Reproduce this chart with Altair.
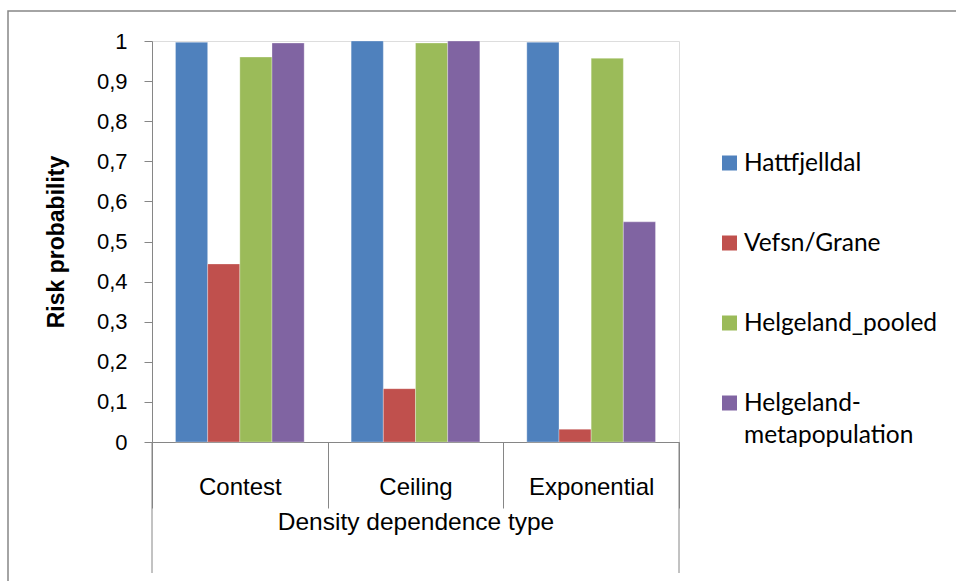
import altair as alt
import pandas as pd

categories = ["Contest", "Ceiling", "Exponential"]
series = ["Hattfjelldal", "Vefsn/Grane", "Helgeland_pooled", "Helgeland-metapopulation"]
legend_labels = ["Hattfjelldal", "Vefsn/Grane", "Helgeland_pooled", "Helgeland-\nmetapopulation"]
hattfjelldal = [0.997, 1.0, 0.997]
vefsn_grane = [0.444, 0.133, 0.032]
helgeland_pooled = [0.960, 0.995, 0.957]
helgeland_meta = [0.995, 1.0, 0.549]
colors = ["#4F81BD", "#C0504D", "#9BBB59", "#8064A2"]
y_ticks = [0, 0.1, 0.2, 0.3, 0.4, 0.5, 0.6, 0.7, 0.8, 0.9, 1.0]

rows = []
for s, vals in zip(series, [hattfjelldal, vefsn_grane, helgeland_pooled, helgeland_meta]):
    for c, v in zip(categories, vals):
        rows.append({"cat": c, "series": s, "value": v})
df = pd.DataFrame(rows)

W, H = 527, 401
FONT = "Lato"
GRAY = "#868686"

color_scale = alt.Scale(domain=series, range=colors)
x_scale = alt.Scale(domain=categories, paddingInner=0, paddingOuter=0)
x_axis = alt.Axis(title="Density dependence type", labelAngle=0, tickBand="extent",
                  tickSize=66, labelPadding=-21, labelBaseline="middle",
                  labelFontSize=24, titleFontSize=24.5, titleFontWeight="normal",
                  titleX=W / 2, titleY=80, titleBaseline="middle",
                  domainColor=GRAY, tickColor=GRAY)

bars = alt.Chart(df).mark_bar(stroke="white", strokeWidth=0.5, strokeOpacity=0.6).encode(
    x=alt.X("cat:N", sort=categories, scale=x_scale, axis=x_axis),
    xOffset=alt.XOffset("series:N", sort=series,
                        scale=alt.Scale(paddingInner=0, paddingOuter=0.73)),
    y=alt.Y("value:Q", scale=alt.Scale(domain=[0, 1], nice=False),
            axis=alt.Axis(title="Risk probability", values=y_ticks, format=".1~f",
                          labelExpr="replace(datum.label, '.', ',')",
                          tickSize=8, labelPadding=17, labelFontSize=22,
                          titleFontSize=23, titleFontWeight="bold",
                          titleX=-96, titleY=H / 2, titleAngle=-90,
                          titleBaseline="middle", titleAlign="center",
                          domainColor=GRAY, tickColor=GRAY, grid=False)),
    color=alt.Color("series:N", scale=color_scale, legend=None),
)

edge_df = pd.DataFrame({"cat": [categories[0]]})
edge_df2 = pd.DataFrame({"cat": [categories[-1]]})
left_edge = alt.Chart(edge_df).mark_rule(color=GRAY, strokeWidth=1).encode(
    x=alt.X("cat:N", sort=categories, scale=x_scale, bandPosition=0, axis=x_axis),
    y=alt.value(H), y2=alt.value(H + 131))
right_edge = alt.Chart(edge_df2).mark_rule(color=GRAY, strokeWidth=1).encode(
    x=alt.X("cat:N", sort=categories, scale=x_scale, bandPosition=1, axis=x_axis),
    y=alt.value(H), y2=alt.value(H + 131))

leg_df = pd.DataFrame({"series": series, "label": legend_labels})
leg_y = alt.Y("series:N", sort=series, axis=None,
              scale=alt.Scale(domain=series, range=[122, 362], padding=0))
leg_sq = alt.Chart(leg_df).mark_square(size=225, opacity=1, filled=True).encode(
    x=alt.value(577.5), y=leg_y,
    color=alt.Color("series:N", scale=color_scale, legend=None))
leg_tx = alt.Chart(leg_df).mark_text(align="left", baseline="alphabetic", dy=8, lineBreak="\n",
                                     fontSize=24.5, font=FONT, color="#000000",
                                     lineHeight=32).encode(
    x=alt.value(592), y=leg_y, text="label:N")

border = alt.Chart(pd.DataFrame({"a": [0]})).mark_rect(fill=None, stroke=GRAY, strokeWidth=1.5).encode(
    x=alt.value(-144), y=alt.value(-30), x2=alt.value(820), y2=alt.value(560))

chart = alt.layer(border, bars, left_edge, right_edge, leg_sq, leg_tx).resolve_scale(
    y="independent"
).properties(
    width=W, height=H,
    autosize=alt.AutoSizeParams(type="none"),
    padding={"left": 152, "top": 41, "right": 277, "bottom": 139},
).configure_view(stroke=None).configure_axis(
    labelFont=FONT, titleFont=FONT, labelColor="#000000", titleColor="#000000"
).configure(background="white")

chart.save("out.html", embed_options={"renderer": "svg", "actions": False})
